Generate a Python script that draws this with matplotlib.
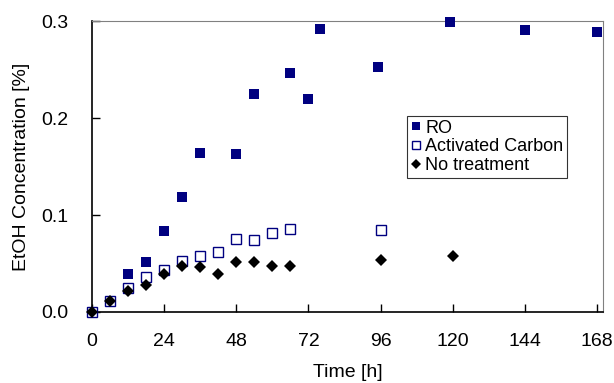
import matplotlib
matplotlib.use("Agg")
import matplotlib.pyplot as plt

plt.rcParams["font.family"] = ["Liberation Sans", "DejaVu Sans"]

# Time [h] and EtOH concentration [%]
ro_time = [0, 12, 18, 24, 30, 36, 48, 54, 66, 72, 76, 95, 119, 144, 168]
ro_conc = [0.0, 0.039, 0.052, 0.084, 0.119, 0.164, 0.163, 0.225, 0.246,
           0.220, 0.292, 0.253, 0.299, 0.291, 0.289]

ac_time = [0, 6, 12, 18, 24, 30, 36, 42, 48, 54, 60, 66, 96]
ac_conc = [0.0, 0.011, 0.025, 0.036, 0.043, 0.053, 0.058, 0.062, 0.075,
           0.074, 0.081, 0.086, 0.085]

nt_time = [0, 6, 12, 18, 24, 30, 36, 42, 48, 54, 60, 66, 96, 120]
nt_conc = [0.0, 0.011, 0.022, 0.028, 0.039, 0.047, 0.046, 0.039, 0.052,
           0.052, 0.047, 0.047, 0.054, 0.058]

x_ticks = [0, 24, 48, 72, 96, 120, 144, 168]
y_ticks = [0.0, 0.1, 0.2, 0.3]

fig = plt.figure(figsize=(6.14, 3.83), dpi=100)
ax = fig.add_axes([0.1498, 0.1854, 0.8322, 0.7596])

ax.plot(ro_time, ro_conc, "s", color="navy", markersize=6.5,
        markeredgewidth=0, label="RO", clip_on=False, zorder=3)
ax.plot(ac_time, ac_conc, "s", markerfacecolor="white", markeredgecolor="navy",
        markersize=6.5, markeredgewidth=1.0, label="Activated Carbon",
        clip_on=False, zorder=3)
ax.plot(nt_time, nt_conc, "D", color="black", markersize=6.5,
        markeredgewidth=0, label="No treatment", clip_on=False, zorder=4)

ax.set_xlim(0, 170)
ax.set_ylim(0, 0.3)
ax.set_xticks(x_ticks)
ax.set_yticks(y_ticks)
ax.set_yticklabels([f"{v:.1f}" for v in y_ticks])
ax.tick_params(direction="in", length=6, width=1, labelsize=14)
ax.tick_params(axis="x", pad=15)
ax.tick_params(axis="y", pad=17)

for side in ["top", "right"]:
    ax.spines[side].set_color("gray")
for side in ["left", "bottom"]:
    ax.spines[side].set_linewidth(1.2)

ax.set_xlabel("Time [h]", fontsize=14, labelpad=10)
ax.set_ylabel("EtOH Concentration [%]", fontsize=14, labelpad=8)

leg = ax.legend(loc="upper left", bbox_to_anchor=(0.617, 0.674), fontsize=13,
                frameon=True, fancybox=False, edgecolor="black",
                markerscale=0.85, handlelength=0.55, handletextpad=0.25,
                borderpad=0.2, labelspacing=0.1, borderaxespad=0)
leg.get_frame().set_linewidth(0.8)

fig.savefig("out.png", dpi=100)
plt.close(fig)
